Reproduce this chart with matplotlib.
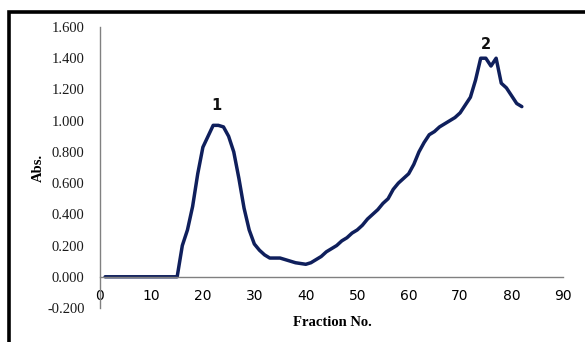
import matplotlib
matplotlib.use("Agg")
import matplotlib.pyplot as plt
from matplotlib.patches import Rectangle
import numpy as np

fractions = list(range(1, 83))
absorbance = [0.0] * 15 + [
    0.20, 0.30, 0.45, 0.66, 0.83, 0.90, 0.97, 0.97, 0.96, 0.90,   # 16-25
    0.80, 0.63, 0.44, 0.30, 0.21, 0.17, 0.14, 0.12, 0.12, 0.12,   # 26-35
    0.11, 0.10, 0.09, 0.085, 0.08, 0.09, 0.11, 0.13, 0.16, 0.18,  # 36-45
    0.20, 0.23, 0.25, 0.28, 0.30, 0.33, 0.37, 0.40, 0.43, 0.47,   # 46-55
    0.50, 0.56, 0.60, 0.63, 0.66, 0.72, 0.80, 0.86, 0.91, 0.93,   # 56-65
    0.96, 0.98, 1.00, 1.02, 1.05, 1.10, 1.15, 1.26, 1.40, 1.40,   # 66-75
    1.35, 1.40, 1.24, 1.21, 1.16, 1.11, 1.09,                     # 76-82
]
x_ticks = [0, 10, 20, 30, 40, 50, 60, 70, 80, 90]
y_ticks = [-0.2, 0.0, 0.2, 0.4, 0.6, 0.8, 1.0, 1.2, 1.4, 1.6]
peak_labels = ["1", "2"]
peak_pos = [(22.7, 1.094), (75.1, 1.485)]

W, H = 585, 342
fig = plt.figure(figsize=(W / 100, H / 100), dpi=100)
ax = fig.add_axes([100 / W, 1 - 308 / H, (563 - 100) / W, (308 - 27) / H])

ax.plot(fractions, absorbance, color="#0f1f5c", lw=2.5, solid_joinstyle="round", solid_capstyle="round")

ax.set_xlim(0, 90)
ax.set_ylim(-0.2, 1.6)
ax.set_xticks(x_ticks)
ax.set_yticks(y_ticks)
ax.set_yticklabels([f"{v:.3f}" for v in y_ticks])

serif = ["Liberation Serif", "DejaVu Serif"]
for lab in ax.get_xticklabels() + ax.get_yticklabels():
    lab.set_fontfamily(serif)
    lab.set_fontsize(10.5)
    lab.set_color("#1a1a1a")

ax.spines["top"].set_visible(False)
ax.spines["right"].set_visible(False)
ax.spines["bottom"].set_position(("data", 0))
for s in ("left", "bottom"):
    ax.spines[s].set_color("#808080")
    ax.spines[s].set_linewidth(1.0)
ax.tick_params(axis="both", length=0)
ax.tick_params(axis="x", pad=9)
ax.tick_params(axis="y", pad=11)

ax.set_ylabel("Abs.", fontfamily=serif, fontweight="bold", fontsize=10.5, labelpad=2)
fig.text(332 / W, 1 - 322 / H, "Fraction No.", ha="center", va="center",
         fontfamily=serif, fontweight="bold", fontsize=10.5)

for t, (px, py) in zip(peak_labels, peak_pos):
    ax.text(px, py, t, ha="center", va="center", fontweight="bold", fontsize=10.5,
            fontfamily="DejaVu Sans", color="#111111")

fig.patches.append(Rectangle((9 / W, -0.1), 1.2, 1 - 11.5 / H + 0.1, transform=fig.transFigure,
                             fill=False, edgecolor="black", lw=2.6, figure=fig))

fig.savefig("out.png", dpi=100)
